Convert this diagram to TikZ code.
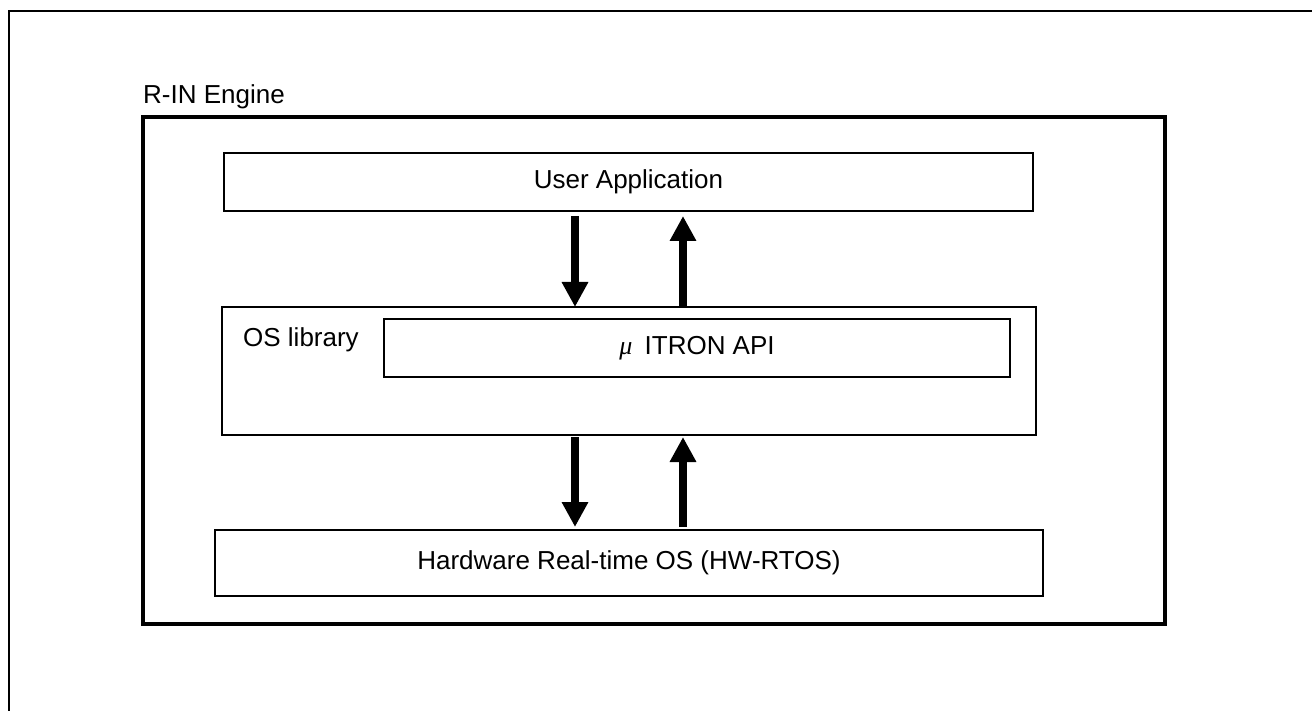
\documentclass[tikz,border=0pt]{standalone}
\usepackage{fontspec}
\setmainfont{Liberation Sans}
\newfontfamily\mufont{Liberation Serif}
\usepackage{tikz}
\usetikzlibrary{arrows.meta, positioning}

\tikzset{
  layerbox/.style={draw, line width=2.3pt, inner sep=0pt, outer sep=0pt},
  fatarrow/.style={line width=8pt, -{Triangle[width=25pt,length=25pt]}}
}

\begin{document}
\begin{tikzpicture}[x=1pt, y=-1pt, font=\fontsize{26}{30}\selectfont]
  \useasboundingbox (0,0) rectangle (1312,711);
  % outer frame (cut off at right and bottom)
  \draw [line width=2.5pt] (9,711) -- (9,11) -- (1312,11);

  \node at (654,370.5) [layerbox, line width=4pt, minimum width=1022pt, minimum height=507pt] (engine) {};
  \node at (143,104) [anchor=base west, inner sep=0pt] (title) {R-IN Engine};

  \node at (628.5,182) [layerbox, minimum width=809pt, minimum height=58pt] (app) {User Application};
  \node at (629,371) [layerbox, minimum width=814pt, minimum height=128pt] (oslib) {};
  \node at (243,347) [anchor=base west, inner sep=0pt] (libname) {OS library};
  \node at (697,348) [layerbox, minimum width=626pt, minimum height=58pt] (itron) {{\mufont\itshape μ}\hspace{5pt} ITRON API};
  \node at (629,563) [layerbox, minimum width=828pt, minimum height=66pt] (rtos) {Hardware Real-time OS (HW-RTOS)};

  \coordinate (dnx) at (575,0);
  \coordinate (upx) at (683,0);

  \draw [fatarrow, shorten <=5pt] (app.south -| dnx) -- (oslib.north -| dnx);
  \draw [fatarrow, shorten >=5pt] (oslib.north -| upx) -- (app.south -| upx);
  \draw [fatarrow, shorten <=2pt, shorten >=3pt] (oslib.south -| dnx) -- (rtos.north -| dnx);
  \draw [fatarrow, shorten <=3pt, shorten >=2pt] (rtos.north -| upx) -- (oslib.south -| upx);
\end{tikzpicture}
\end{document}
